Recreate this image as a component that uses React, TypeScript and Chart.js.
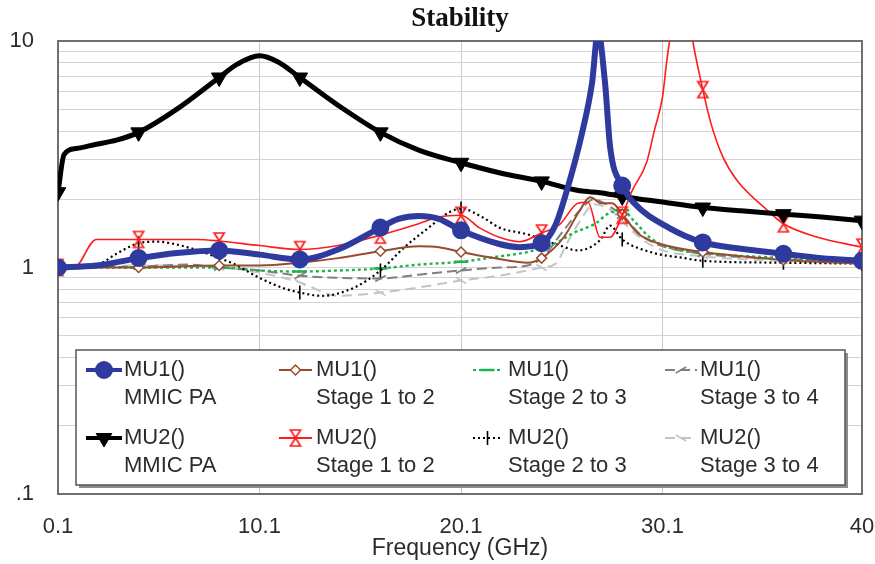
import React, { useEffect, useRef } from 'react';
import { Chart, registerables } from 'chart.js';
import { drawPoint } from 'chart.js/helpers';

Chart.register(...registerables);

// ---------- data ----------
const markerFreqs = [0.1, 4.1, 8.1, 12.1, 16.1, 20.1, 24.1, 28.1, 32.1, 36.1, 40];
const xTickValues = [0.1, 10.1, 20.1, 30.1, 40];
const yTickValues = [0.1, 0.2, 0.3, 0.4, 0.5, 0.6, 0.7, 0.8, 0.9, 1, 2, 3, 4, 5, 6, 7, 8, 9, 10];
const yTickLabels: Record<string, string> = { '0.1': '.1', '1': '1', '10': '10' };

const mu1PaFreq = [0.1, 2, 4.1, 6, 8.1, 10.1, 12.1, 14, 16.1, 17, 18, 19, 20.1, 22, 23, 24.1, 24.8, 25.4, 26.1, 26.6, 26.9, 27.25, 27.5, 28.1, 28.7, 30.4, 32.1, 34, 36.1, 38, 40];
const mu1PaVal = [1.0, 1.02, 1.1, 1.16, 1.19, 1.14, 1.085, 1.2, 1.5, 1.64, 1.69, 1.64, 1.46, 1.27, 1.23, 1.28, 1.55, 2.26, 3.9, 6.5, 11, 6.5, 3.4, 2.3, 1.92, 1.5, 1.29, 1.21, 1.15, 1.1, 1.07];

const mu2PaFreq = [0.1, 0.4, 1, 2, 3, 4.1, 6, 8.1, 9, 10.1, 11, 12.1, 14, 16.1, 18, 20.1, 22, 24.1, 26, 27, 28.1, 30, 32.1, 34, 36.1, 38, 40];
const mu2PaVal = [2.15, 3.15, 3.35, 3.5, 3.65, 3.95, 5.0, 6.9, 7.9, 8.6, 8.1, 6.9, 5.2, 3.95, 3.3, 2.9, 2.62, 2.4, 2.18, 2.14, 2.06, 1.95, 1.84, 1.78, 1.72, 1.67, 1.61];

const mu2S12Freq = [0.1, 0.9, 2, 4.1, 6, 7, 8.1, 10.1, 12.1, 14, 16.1, 18, 19, 20.1, 21, 22, 23, 24.1, 25, 25.9, 26.4, 27, 27.5, 28.1, 28.6, 29.3, 29.7, 30.1, 30.3, 30.45, 30.8, 31.1, 31.4, 31.6, 32.1, 32.5, 33.1, 33.8, 35.3, 36.1, 37.8, 40];
const mu2S12Val = [1.0, 1.0, 1.33, 1.33, 1.33, 1.33, 1.31, 1.25, 1.2, 1.25, 1.39, 1.56, 1.67, 1.7, 1.5, 1.36, 1.3, 1.42, 1.55, 1.92, 1.94, 1.36, 1.36, 1.7, 2.19, 2.89, 4.04, 5.66, 8.0, 10, 14, 15, 13, 10, 6.1, 4.34, 3.07, 2.42, 1.79, 1.56, 1.36, 1.23];

const mu1S12Freq = [0.1, 4.1, 8.1, 10.1, 12.1, 14, 16.1, 18, 19, 20.1, 22, 23.4, 24.1, 25.2, 26, 26.5, 27.1, 27.6, 28.1, 28.9, 30, 32.1, 35, 36.1, 40];
const mu1S12Val = [1.0, 1.0, 1.02, 1.02, 1.05, 1.1, 1.18, 1.24, 1.23, 1.17, 1.09, 1.05, 1.1, 1.36, 1.79, 2.04, 1.92, 1.92, 1.72, 1.41, 1.27, 1.17, 1.1, 1.08, 1.04];

const mu1S23Freq = [0.1, 4.1, 8.1, 10.1, 12.1, 14, 16.1, 18, 20.1, 22, 23.4, 24.1, 24.8, 25.6, 26.8, 27.4, 28.1, 28.7, 29.5, 30.5, 32.1, 36.1, 40];
const mu1S23Val = [1.0, 1.0, 1.0, 0.97, 0.96, 0.97, 0.99, 1.03, 1.06, 1.12, 1.17, 1.22, 1.28, 1.41, 1.57, 1.73, 1.79, 1.6, 1.35, 1.22, 1.16, 1.1, 1.05];

const mu2S23Freq = [0.1, 1, 2.2, 3, 4.1, 5, 6.5, 8.1, 8.8, 10.1, 11.3, 12.1, 13.2, 14.8, 16.1, 17.3, 18.5, 19.5, 20.1, 21.2, 22, 23.4, 24.1, 24.8, 25.9, 27, 27.5, 28.1, 29.5, 31.2, 32.1, 36.1, 40];
const mu2S23Val = [1.0, 1.0, 1.04, 1.15, 1.28, 1.3, 1.23, 1.1, 1.04, 0.9, 0.81, 0.775, 0.75, 0.815, 0.97, 1.23, 1.5, 1.75, 1.82, 1.66, 1.5, 1.4, 1.33, 1.27, 1.19, 1.32, 1.53, 1.33, 1.17, 1.1, 1.07, 1.05, 1.04];

const mu1S34Freq = [0.1, 4.1, 6.5, 8.1, 10.1, 12.1, 14, 16.1, 18, 20.1, 22, 23.4, 24.1, 25.2, 26, 26.7, 27.5, 28.1, 29, 30, 32.1, 36.1, 40];
const mu1S34Val = [1.0, 1.01, 1.03, 1.0, 0.97, 0.92, 0.9, 0.894, 0.93, 0.97, 1.0, 1.02, 1.1, 1.46, 1.79, 2.0, 1.85, 1.7, 1.4, 1.25, 1.15, 1.09, 1.05];

const mu2S34Freq = [0.1, 4.1, 8.1, 10.1, 12.1, 14, 16.1, 18, 20.1, 22, 23.4, 24.1, 24.8, 25.4, 26, 26.7, 27.5, 28.1, 29, 30, 32.1, 36.1, 40];
const mu2S34Val = [1.0, 1.02, 1.0, 0.95, 0.86, 0.75, 0.775, 0.816, 0.876, 0.92, 0.97, 1.0, 1.04, 1.3, 1.6, 1.9, 1.8, 1.6, 1.35, 1.2, 1.12, 1.07, 1.04];

// ---------- styles ----------
const BLUE = '#2f3a9e';
const RED = '#ff1c1c';
const BROWN = '#9a4a2e';
const GREEN = '#1fb14a';
const DGRAY = '#7f7f7f';
const LGRAY = '#c4c4c4';
const TEXT = '#2c2c2c';
const SANS = "'Liberation Sans', Arial, sans-serif";
const SERIF = "'Liberation Serif', 'Times New Roman', serif";

const isMarker = (x: number) => markerFreqs.some((m) => Math.abs(m - x) < 1e-6);

function makeHourglass(color: string) {
  const c = document.createElement('canvas');
  c.width = 14;
  c.height = 20;
  const g = c.getContext('2d')!;
  g.strokeStyle = color;
  g.lineWidth = 1.7;
  g.beginPath();
  g.moveTo(2, 2);
  g.lineTo(12, 2);
  g.lineTo(2, 18);
  g.lineTo(12, 18);
  g.closePath();
  g.stroke();
  return c;
}

export default function App() {
  const ref = useRef<HTMLCanvasElement>(null);

  useEffect(() => {
    const canvas = ref.current!;
    const hourglass = makeHourglass(RED);
    const mk = (f: number[], v: number[]) => f.map((x, i) => ({ x, y: v[i] }));
    const rad = (r: number) => (c: any) => (c.raw && isMarker(c.raw.x) ? r : 0);

    const datasets: any[] = [
      { label: ['MU1()', 'MMIC PA'], data: mk(mu1PaFreq, mu1PaVal), borderColor: BLUE, borderWidth: 6,
        pointStyle: 'circle', pointRotation: 0, markerSize: 8, pointRadius: rad(8), pointBackgroundColor: BLUE,
        pointBorderColor: BLUE, pointBorderWidth: 2, legendLine: 4 },
      { label: ['MU2()', 'MMIC PA'], data: mk(mu2PaFreq, mu2PaVal), borderColor: '#000', borderWidth: 5,
        pointStyle: 'triangle', pointRotation: 180, markerSize: 9, pointRadius: rad(9), pointBackgroundColor: '#000',
        pointBorderColor: '#000', pointBorderWidth: 1, legendLine: 4 },
      { label: ['MU2()', 'Stage 1 to 2'], data: mk(mu2S12Freq, mu2S12Val), borderColor: RED, borderWidth: 1.6,
        pointStyle: hourglass, pointRotation: 0, markerSize: 7, pointRadius: rad(7), pointBackgroundColor: RED,
        pointBorderColor: RED, pointBorderWidth: 1, legendLine: 2 },
      { label: ['MU1()', 'Stage 1 to 2'], data: mk(mu1S12Freq, mu1S12Val), borderColor: BROWN, borderWidth: 2,
        pointStyle: 'rectRot', pointRotation: 0, markerSize: 5, pointRadius: rad(5), pointBackgroundColor: '#fff',
        pointBorderColor: BROWN, pointBorderWidth: 1.5, legendLine: 2 },
      { label: ['MU2()', 'Stage 2 to 3'], data: mk(mu2S23Freq, mu2S23Val), borderColor: '#000', borderWidth: 2.2,
        borderDash: [2, 3], pointStyle: 'line', pointRotation: 90, markerSize: 7, pointRadius: rad(7),
        pointBackgroundColor: '#000', pointBorderColor: '#000', pointBorderWidth: 1.6, legendLine: 2 },
      { label: ['MU1()', 'Stage 2 to 3'], data: mk(mu1S23Freq, mu1S23Val), borderColor: GREEN, borderWidth: 2.4,
        borderDash: [3, 3], pointStyle: 'line', pointRotation: 0, markerSize: 7, pointRadius: rad(7),
        pointBackgroundColor: GREEN, pointBorderColor: GREEN, pointBorderWidth: 2.5, legendLine: 2 },
      { label: ['MU1()', 'Stage 3 to 4'], data: mk(mu1S34Freq, mu1S34Val), borderColor: DGRAY, borderWidth: 2,
        borderDash: [10, 5], pointStyle: 'line', pointRotation: 150, markerSize: 6, pointRadius: rad(6),
        pointBackgroundColor: DGRAY, pointBorderColor: DGRAY, pointBorderWidth: 1.6, legendLine: 2 },
      { label: ['MU2()', 'Stage 3 to 4'], data: mk(mu2S34Freq, mu2S34Val), borderColor: LGRAY, borderWidth: 2,
        borderDash: [10, 6], pointStyle: 'line', pointRotation: 30, markerSize: 6, pointRadius: rad(6),
        pointBackgroundColor: LGRAY, pointBorderColor: LGRAY, pointBorderWidth: 1.6, legendLine: 2 },
    ];
    datasets.forEach((d) => {
      d.fill = false;
      d.cubicInterpolationMode = 'monotone';
      d.pointHoverRadius = 0;
    });

    // legend grid: [column][row] -> dataset index
    const legendGrid = [[0, 1], [3, 2], [5, 4], [6, 7]];

    const decor = {
      id: 'decor',
      beforeDatasetsDraw(chart: any) {
        const { ctx, chartArea: a } = chart;
        ctx.save();
        ctx.strokeStyle = '#6f6f6f';
        ctx.lineWidth = 2;
        ctx.strokeRect(a.left, a.top, a.right - a.left, a.bottom - a.top);
        ctx.restore();
      },
      afterDraw(chart: any) {
        const { ctx, chartArea: a } = chart;
        ctx.save();
        // title
        ctx.fillStyle = '#111';
        ctx.font = `bold 27px ${SERIF}`;
        ctx.textAlign = 'center';
        ctx.textBaseline = 'middle';
        ctx.fillText('Stability', (a.left + a.right) / 2, 19);

        // legend box
        const bx = 76, by = 350, bw = 769, bh = 135;
        ctx.fillStyle = '#8c8c8c';
        ctx.fillRect(bx + 3, by + 3, bw, bh);
        ctx.fillStyle = '#fff';
        ctx.fillRect(bx, by, bw, bh);
        ctx.strokeStyle = '#555';
        ctx.lineWidth = 1.5;
        ctx.strokeRect(bx, by, bw, bh);

        const symX0 = [86, 279, 473, 665];
        const symX1 = [122, 312, 502, 697];
        const txtX = [124, 316, 508, 700];
        const rowY = [370, 438];
        const lineGap = 28;
        ctx.font = `22px ${SANS}`;
        ctx.textAlign = 'left';
        ctx.textBaseline = 'middle';
        legendGrid.forEach((col, ci) => {
          col.forEach((di, ri) => {
            const ds = datasets[di];
            const y = rowY[ri];
            ctx.save();
            ctx.strokeStyle = ds.borderColor;
            ctx.lineWidth = ds.legendLine;
            ctx.setLineDash(ds.borderDash || []);
            ctx.beginPath();
            ctx.moveTo(symX0[ci], y);
            ctx.lineTo(symX1[ci], y);
            ctx.stroke();
            ctx.setLineDash([]);
            ctx.fillStyle = ds.pointBackgroundColor;
            ctx.strokeStyle = ds.pointBorderColor;
            ctx.lineWidth = ds.pointBorderWidth;
            drawPoint(ctx, { pointStyle: ds.pointStyle, rotation: ds.pointRotation, radius: ds.markerSize,
              borderWidth: ds.pointBorderWidth } as any, (symX0[ci] + symX1[ci]) / 2, y);
            ctx.restore();
            ctx.fillStyle = TEXT;
            ctx.fillText(ds.label[0], txtX[ci], y);
            ctx.fillText(ds.label[1], txtX[ci], y + lineGap);
          });
        });
        ctx.restore();
      },
    };

    const chart = new Chart(canvas, {
      type: 'line',
      data: { datasets },
      options: {
        animation: false,
        responsive: false,
        events: [],
        layout: { padding: { top: 41, right: 13, left: 0, bottom: 0 } },
        plugins: { legend: { display: false }, title: { display: false }, tooltip: { enabled: false } },
        scales: {
          x: {
            type: 'linear',
            min: 0.1,
            max: 40,
            afterBuildTicks: (s: any) => { s.ticks = xTickValues.map((v) => ({ value: v })); },
            afterFit: (s: any) => { s.height = 70; s.paddingLeft = 0; s.paddingRight = 0; },
            grid: { color: '#c9c9c9', lineWidth: 1, drawTicks: false },
            border: { display: false },
            ticks: {
              autoSkip: false, maxRotation: 0, padding: 20, color: TEXT,
              font: { family: SANS, size: 22 },
              callback: (v: any) => String(v),
            },
            title: { display: true, text: 'Frequency (GHz)', color: TEXT, font: { family: SANS, size: 23 },
              padding: { top: 0, bottom: 2 } },
          },
          y: {
            type: 'logarithmic',
            min: 0.1,
            max: 10,
            afterBuildTicks: (s: any) => { s.ticks = yTickValues.map((v) => ({ value: v })); },
            afterFit: (s: any) => { s.width = 58; s.paddingTop = 0; s.paddingBottom = 0; },
            grid: { color: '#d8d3d3', lineWidth: 1, drawTicks: false },
            border: { display: false },
            ticks: {
              autoSkip: false, padding: 24, color: TEXT,
              font: { family: SANS, size: 22 },
              callback: (v: any) => yTickLabels[String(v)] ?? '',
            },
          },
        },
      },
      plugins: [decor],
    } as any);

    return () => chart.destroy();
  }, []);

  return (
    <div style={{ position: 'fixed', left: 0, top: 0, width: 875, height: 564, background: '#fff' }}>
      <canvas ref={ref} width={875} height={564} style={{ display: 'block' }} />
    </div>
  );
}
